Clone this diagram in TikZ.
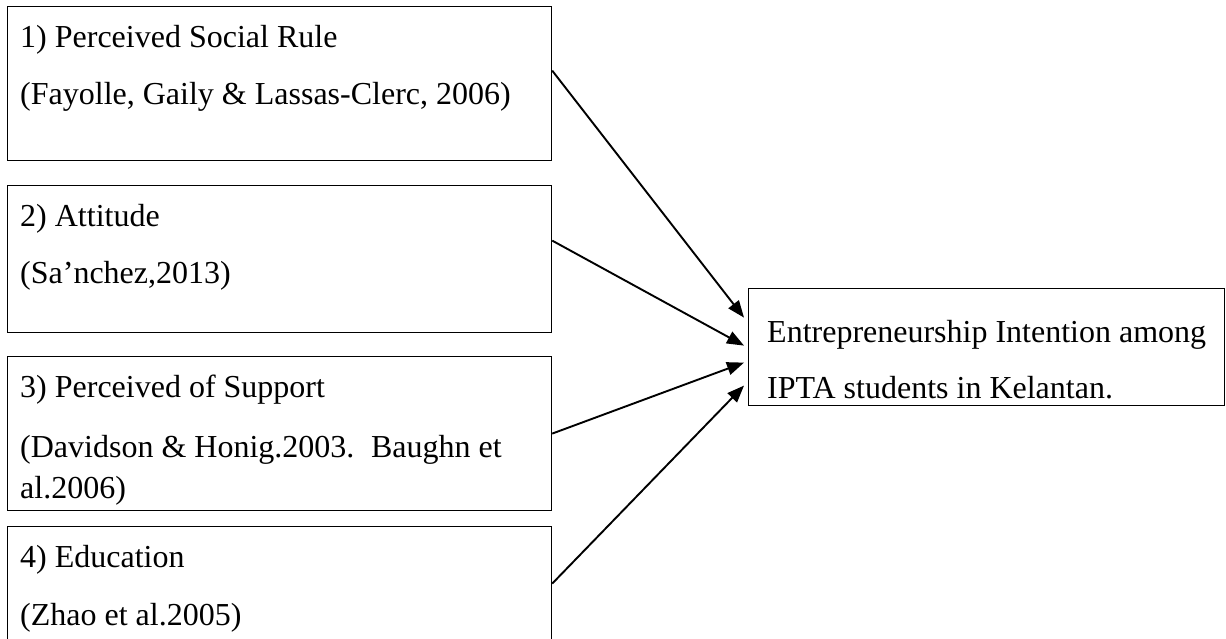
\documentclass[tikz,border=0pt]{standalone}
\usepackage{fontspec}
\setmainfont{Liberation Serif}
\usetikzlibrary{arrows.meta}
\begin{document}
\begin{tikzpicture}[x=1pt,y=-1pt,
  box/.style={draw=black, line width=1.2pt, anchor=north west, inner sep=0pt},
  txt/.style={anchor=base west, inner sep=0pt, font=\fontsize{32}{37}\selectfont},
  arr/.style={line width=1.9pt, -{Triangle[length=17pt,width=13pt]}}]
\useasboundingbox (0,0) rectangle (1226,638);
\fill[white] (0,0) rectangle (1226,638);
% left boxes
\node[box, minimum width=544pt, minimum height=154pt] (b1) at (7,6) {};
\node[box, minimum width=544pt, minimum height=147pt] (b2) at (7,185) {};
\node[box, minimum width=544pt, minimum height=154pt] (b3) at (7,356) {};
\node[box, minimum width=544pt, minimum height=134pt] (b4) at (7,526) {};
% right box
\node[box, minimum width=476pt, minimum height=117pt] (r) at (748,288) {};
% texts
\node[txt] (t1a) at (20,47) {1) Perceived Social Rule};
\node[txt] (t1b) at (20,104) {(Fayolle, Gaily \& Lassas-Clerc, 2006)};
\node[txt] (t2a) at (20,226) {2) Attitude};
\node[txt] (t2b) at (20,283) {(Sa’nchez,2013)};
\node[txt] (t3a) at (20,397) {3) Perceived of Support};
\node[txt] (t3b) at (20,457) {(Davidson \& Honig.2003.\hspace{6pt} Baughn et};
\node[txt] (t3c) at (20,498) {al.2006)};
\node[txt] (t4a) at (20,567) {4) Education};
\node[txt] (t4b) at (20,625) {(Zhao et al.2005)};
\node[txt] (tra) at (767,342) {Entrepreneurship Intention among};
\node[txt] (trb) at (767,398) {IPTA students in Kelantan.};
% arrows
\draw[arr] ([yshift=13pt]b1.east) -- ([xshift=-4pt,yshift=29.5pt]r.west);
\draw[arr] ([yshift=18.5pt]b2.east) -- ([xshift=-4pt,yshift=1.5pt]r.west);
\draw[arr] (b3.east) -- ([xshift=-4pt,yshift=-15.5pt]r.west);
\draw[arr] ([yshift=10pt]b4.east) -- ([xshift=-4pt,yshift=-38.5pt]r.west);
\end{tikzpicture}
\end{document}
